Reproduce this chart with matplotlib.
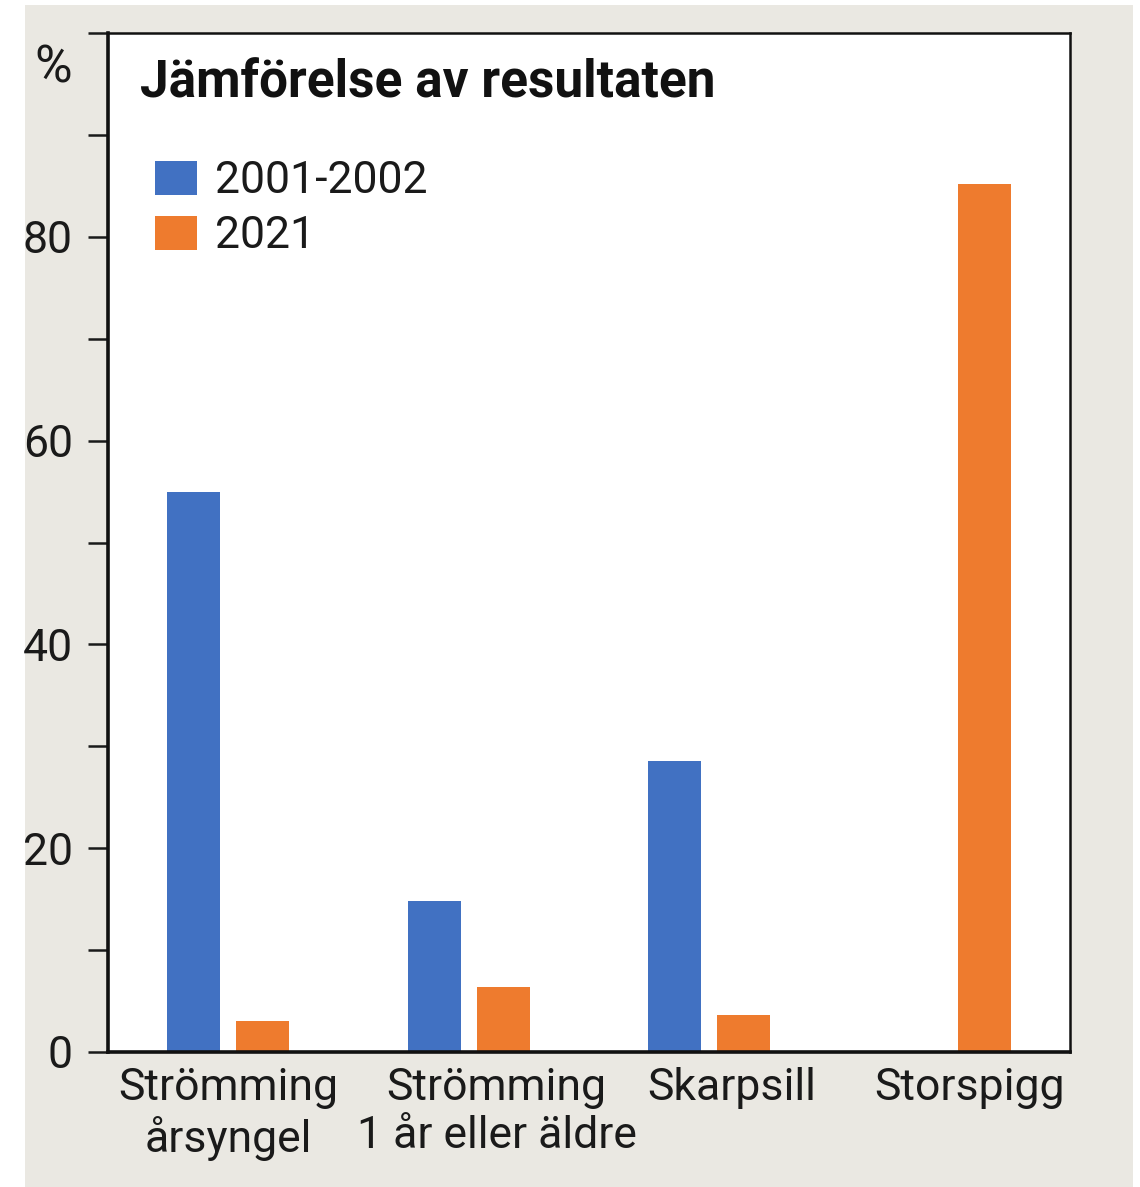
import matplotlib
matplotlib.use("Agg")
import matplotlib.pyplot as plt
import matplotlib.patches as mpatches
import matplotlib.transforms as mtransforms
import numpy as np

categories = ["Strömming\nårsyngel", "Strömming\n1 år eller äldre", "Skarpsill", "Storspigg"]
series_2001_2002 = [55.0, 14.8, 28.6, 0.0]
series_2021 = [3.0, 6.4, 3.6, 85.2]
series_names = ["2001-2002", "2021"]
ytick_values = [0, 10, 20, 30, 40, 50, 60, 70, 80, 90, 100]
ytick_labels = ["0", "", "20", "", "40", "", "60", "", "80", "", ""]
title = "Jämförelse av resultaten"
unit = "%"

BLUE = "#4171C2"
ORANGE = "#EE7B2E"
BG = "#EAE8E2"
TEXT = "#1a1a1a"

plt.rcParams['font.family'] = ['Roboto', 'DejaVu Sans']

fig = plt.figure(figsize=(11.40, 11.87), dpi=100)
fig.patch.set_facecolor("white")
bgrect = mpatches.Rectangle((25/1140, 0), (1133-25)/1140, (1187-5)/1187,
                            transform=fig.transFigure, facecolor=BG,
                            edgecolor="none", zorder=-10)
fig.add_artist(bgrect)

ax = fig.add_axes([108/1140, 1 - 1052/1187, (1070-108)/1140, (1052-33)/1187])
ax.set_zorder(5)
ax.set_facecolor("white")

x = np.arange(len(categories))
w = 0.22
off = 0.143
ax.bar(x - off, series_2001_2002, width=w, color=BLUE, label=series_names[0], zorder=2)
ax.bar(x + off, series_2021, width=w, color=ORANGE, label=series_names[1], zorder=2)

ax.set_xlim(-0.5, 3.5)
ax.set_ylim(0, 100)

ax.set_yticks(ytick_values)
ax.set_yticklabels(ytick_labels)
ax.tick_params(axis='y', length=14.4, width=1.8, pad=11, labelsize=32, colors=TEXT)
ax.set_xticks(x)
ax.set_xticklabels(categories)
ax.tick_params(axis='x', length=0, pad=11, labelsize=32, colors=TEXT)
for lbl in ax.get_xticklabels():
    lbl.set_linespacing(1.18)
    lbl.set_multialignment('center')

shifts_px = [0, 28, 22, 20]
for lbl, s in zip(ax.get_xticklabels(), shifts_px):
    lbl.set_transform(lbl.get_transform() + mtransforms.ScaledTranslation(s/100, 0, fig.dpi_scale_trans))

for side in ["left", "bottom"]:
    ax.spines[side].set_linewidth(2.6)
    ax.spines[side].set_color("#111111")
for side in ["top", "right"]:
    ax.spines[side].set_linewidth(1.8)
    ax.spines[side].set_color("#111111")

ax.text(-0.037, 96.5, unit, transform=ax.get_yaxis_transform(), ha='right', va='center',
        fontsize=37, color=TEXT)

ax.text(0.0333, 0.937, title, transform=ax.transAxes, ha='left', va='baseline',
        fontsize=37, fontweight='bold', color="#111111")

leg = ax.legend(loc='upper left', bbox_to_anchor=(0.049, 0.875), frameon=False,
                fontsize=32, handlelength=0.94, handleheight=0.8, handletextpad=0.4,
                labelspacing=0.29, borderpad=0, borderaxespad=0)
for t in leg.get_texts():
    t.set_color(TEXT)

fig.savefig("out.png", dpi=100, facecolor=fig.get_facecolor())
